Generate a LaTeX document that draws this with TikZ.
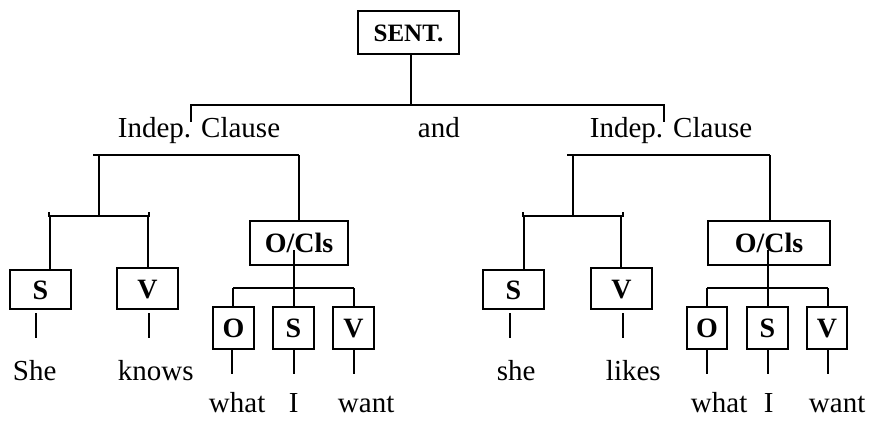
\documentclass[tikz,border=0pt]{standalone}
\usepackage{fontspec}
\setmainfont{Liberation Serif}
\begin{document}
\begin{tikzpicture}[x=1pt,y=-1pt,line width=1.9pt,
  box/.style={draw, inner sep=0pt, text height=19pt, text depth=0pt,
    font=\fontsize{28}{30}\selectfont\bfseries},
  sbox/.style={box, minimum width=41pt, minimum height=42pt},
  mbox/.style={box, minimum width=61pt},
  word/.style={inner sep=0pt, anchor=base west, font=\fontsize{29}{31}\selectfont}]
\useasboundingbox (0,0) rectangle (874,421);

% ---------- top ----------
\node[box, font=\fontsize{25}{27}\selectfont\bfseries, text height=17pt, minimum width=101pt, minimum height=43pt] (sent) at (408.5,32.5) {SENT.};
\coordinate (tj) at (411,105);
\coordinate (tl) at (191,105);
\coordinate (tr) at (664,105);
\draw (sent.south -| tj) -- (tj);
\draw (tl) ++(0,17) -- (tl) -- (tr) -- ++(0,17);

\node[word] (icl) at (117,137) {Indep.\hspace{10pt}Clause};
\node[word] (and) at (417,137) {and};
\node[word] (icr) at (589,137) {Indep.\hspace{10pt}Clause};

% ---------- left clause ----------
\node[mbox, minimum height=39pt] (lS) at (40.5,289.5) {S};
\node[mbox, minimum height=41pt] (lV) at (147.5,288.5) {V};
\node[box, minimum width=98pt, minimum height=44pt] (lOC) at (299,243) {O/Cls};
\node[sbox] (lO) at (233.5,328) {O};
\node[sbox] (lS2) at (293.5,328) {S};
\node[sbox] (lV2) at (353.5,328) {V};

\coordinate (la) at (93,155);
\coordinate (lb) at (99,155);
\coordinate (lc) at (299,155);
\draw (la) -- (lc);
\coordinate (lsj) at (99,216);
\draw (lb) -- (lsj);
\draw (lc) -- (lOC.north -| lc);
\coordinate (lh1) at (49,216);
\coordinate (lh2) at (149,216);
\draw (lh1) ++(0,-4) -- (lh1) -- (lh2) -- ++(0,-4);
\coordinate (lsx) at (50,216);
\coordinate (lvx) at (148,216);
\draw (lsx) -- (lS.north -| lsx);
\draw (lvx) -- (lV.north -| lvx);

\coordinate (lij) at (294,250);
\draw (lij) -- (lS2.north -| lij);
\coordinate (lg1) at (233,288);
\coordinate (lg2) at (354,288);
\draw (lg1) -- (lg2);
\draw (lg1) -- (lO.north -| lg1);
\draw (lg2) -- (lV2.north -| lg2);

\node[word] (wShe) at (12,380) {She};
\node[word] (wknows) at (117,380) {knows};
\node[word] (wwhat1) at (208,412) {what};
\node[word] (wI1) at (288,412) {I};
\node[word] (wwant1) at (337,412) {want};

\coordinate (lu1) at (36,313);
\coordinate (lu2) at (149,313);
\draw (lu1) -- ++(0,25);
\draw (lu2) -- ++(0,25);
\draw (lO.south -| 232,0) -- ++(0,24);
\draw (lS2.south -| 294,0) -- ++(0,24);
\draw (lV2.south -| 354,0) -- ++(0,24);

% ---------- right clause ----------
\node[mbox, minimum height=39pt] (rS) at (513.5,289.5) {S};
\node[mbox, minimum height=41pt] (rV) at (621.5,288.5) {V};
\node[box, minimum width=122pt, minimum height=44pt] (rOC) at (769,243) {O/Cls};
\node[sbox, minimum width=40pt] (rO) at (707,328) {O};
\node[sbox] (rS2) at (767.5,328) {S};
\node[sbox, minimum width=40pt] (rV2) at (827,328) {V};

\coordinate (ra) at (567,155);
\coordinate (rb) at (573,155);
\coordinate (rc) at (770,155);
\draw (ra) -- (rc);
\coordinate (rsj) at (573,216);
\draw (rb) -- (rsj);
\draw (rc) -- (rOC.north -| rc);
\coordinate (rh1) at (523,216);
\coordinate (rh2) at (623,216);
\draw (rh1) ++(0,-4) -- (rh1) -- (rh2) -- ++(0,-4);
\coordinate (rsx) at (524,216);
\coordinate (rvx) at (621,216);
\draw (rsx) -- (rS.north -| rsx);
\draw (rvx) -- (rV.north -| rvx);

\coordinate (rij) at (768,250);
\draw (rij) -- (rS2.north -| rij);
\coordinate (rg1) at (707,288);
\coordinate (rg2) at (828,288);
\draw (rg1) -- (rg2);
\draw (rg1) -- (rO.north -| rg1);
\draw (rg2) -- (rV2.north -| rg2);

\node[word] (wshe) at (496,380) {she};
\node[word] (wlikes) at (605,380) {likes};
\node[word] (wwhat2) at (690,412) {what};
\node[word] (wI2) at (763,412) {I};
\node[word] (wwant2) at (808,412) {want};

\coordinate (ru1) at (510,313);
\coordinate (ru2) at (623,313);
\draw (ru1) -- ++(0,25);
\draw (ru2) -- ++(0,25);
\draw (rO.south -| 707,0) -- ++(0,24);
\draw (rS2.south -| 768,0) -- ++(0,24);
\draw (rV2.south -| 828,0) -- ++(0,24);
\end{tikzpicture}
\end{document}
